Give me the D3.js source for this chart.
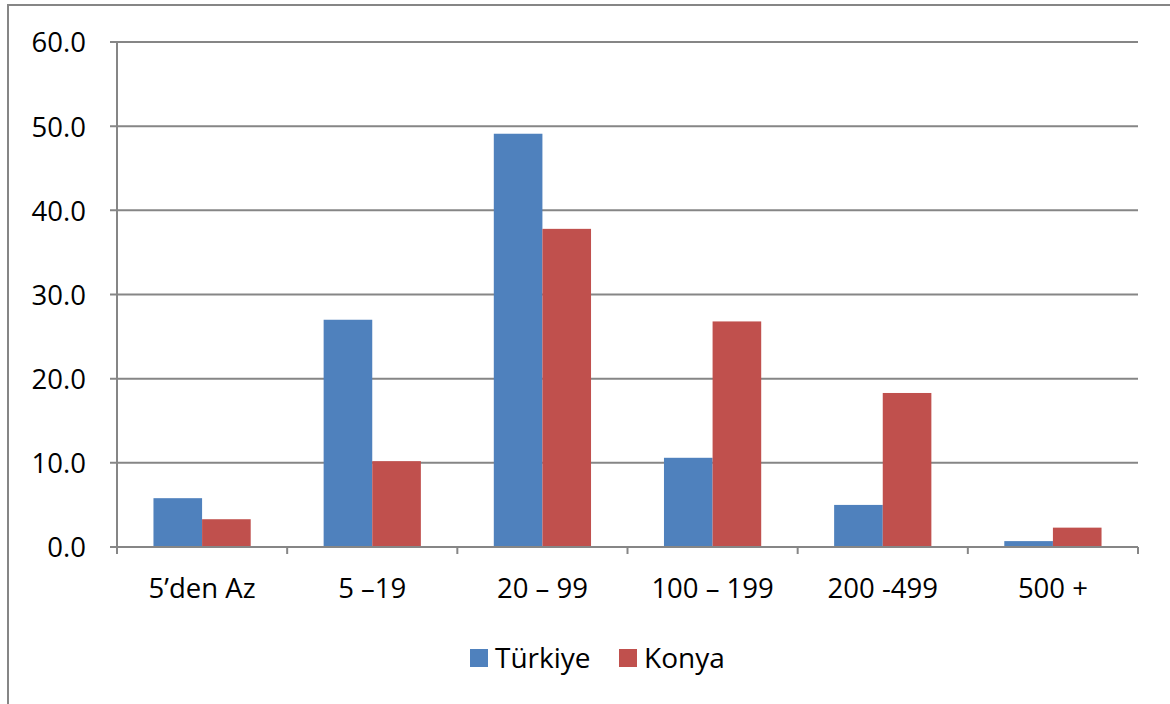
<!DOCTYPE html>
<html>
<head>
<meta charset="utf-8">
<script src="https://cdn.jsdelivr.net/npm/d3@7"></script>
<style>
  body { margin: 0; background: #fff; }
  text { font-family: "Open Sans", "Noto Sans", sans-serif; fill: #000; }
</style>
</head>
<body>
<div id="divbody"></div>
<script>
var categories = ["5\u2019den Az", "5 \u201319", "20 \u2013 99", "100 \u2013 199", "200 -499", "500 +"];
var turkiye = [5.8, 27.0, 49.1, 10.6, 5.0, 0.7];
var konya = [3.3, 10.2, 37.8, 26.8, 18.3, 2.3];
var seriesNames = ["T\u00fcrkiye", "Konya"];
var yTicks = [0, 10, 20, 30, 40, 50, 60];

var width = 1170, height = 704;
var margin = {left: 117, right: 32, top: 42, bottom: 157};
var color = ["#4f81bd", "#c0504d"];
var fontSize = "27.5px";

var svg = d3.select("#divbody").append("svg")
  .attr("width", width)
  .attr("height", height);

// outer frame
svg.append("rect")
  .attr("x", 8).attr("y", 5)
  .attr("width", width).attr("height", height)
  .attr("fill", "none")
  .attr("stroke", "#868686")
  .attr("stroke-width", 2);

var x = d3.scaleBand()
  .domain(categories)
  .range([margin.left, width - margin.right]);

var x1 = d3.scaleBand()
  .domain([0, 1])
  .range([0, x.bandwidth()])
  .paddingOuter(0.75);

var y = d3.scaleLinear()
  .domain([0, 60])
  .range([height - margin.bottom, margin.top]);

// gridlines
svg.append("g").selectAll("line")
  .data(yTicks)
  .enter().append("line")
  .attr("x1", margin.left - 7)
  .attr("x2", width - margin.right)
  .attr("y1", function(d){ return y(d); })
  .attr("y2", function(d){ return y(d); })
  .attr("stroke", "#868686")
  .attr("stroke-width", 2);

var yAxis = svg.append("g")
  .attr("transform", "translate(" + margin.left + ",0)")
  .call(d3.axisLeft(y).tickValues(yTicks).tickFormat(d3.format(".1f")).tickSize(0).tickPadding(31));
yAxis.select(".domain").remove();
yAxis.selectAll("text").style("font-size", fontSize).attr("fill", "#000").attr("dy", "0.36em");

// bars
var rows = categories.map(function(c, i){ return {cat: c, vals: [turkiye[i], konya[i]]}; });
var groups = svg.append("g").selectAll("g")
  .data(rows)
  .enter().append("g")
  .attr("transform", function(d){ return "translate(" + x(d.cat) + ",0)"; });
groups.selectAll("rect")
  .data(function(d){ return d.vals; })
  .enter().append("rect")
  .attr("x", function(d, i){ return x1(i); })
  .attr("width", x1.bandwidth())
  .attr("y", function(d){ return y(d); })
  .attr("height", function(d){ return y(0) - y(d); })
  .attr("fill", function(d, i){ return color[i]; });

// axes lines
svg.append("line")
  .attr("x1", margin.left).attr("x2", margin.left)
  .attr("y1", margin.top).attr("y2", y(0) + 6)
  .attr("stroke", "#868686").attr("stroke-width", 2);

var xAxis = svg.append("g")
  .attr("transform", "translate(0," + y(0) + ")")
  .call(d3.axisBottom(x).tickSize(0).tickPadding(31));
xAxis.select(".domain").remove();
xAxis.selectAll("text").style("font-size", fontSize).attr("fill", "#000");
xAxis.selectAll("line").remove();

svg.append("line")
  .attr("x1", margin.left).attr("x2", width - margin.right)
  .attr("y1", y(0)).attr("y2", y(0))
  .attr("stroke", "#868686").attr("stroke-width", 2);

var bounds = x.domain().map(function(c){ return x(c); }).concat([width - margin.right]);
svg.append("g").selectAll("line")
  .data(bounds)
  .enter().append("line")
  .attr("x1", function(d){ return d; })
  .attr("x2", function(d){ return d; })
  .attr("y1", y(0))
  .attr("y2", y(0) + 7)
  .attr("stroke", "#868686").attr("stroke-width", 2);

// legend
var legend = svg.append("g").attr("transform", "translate(470,649)");
var items = legend.selectAll("g")
  .data(seriesNames)
  .enter().append("g")
  .attr("transform", function(d, i){ return "translate(" + (i * 149) + ",0)"; });
items.append("rect")
  .attr("width", 18).attr("height", 18)
  .attr("fill", function(d, i){ return color[i]; });
items.append("text")
  .attr("x", 25).attr("y", 9)
  .attr("dy", "0.36em")
  .style("font-size", "28px")
  .text(function(d){ return d; });
</script>
</body>
</html>
